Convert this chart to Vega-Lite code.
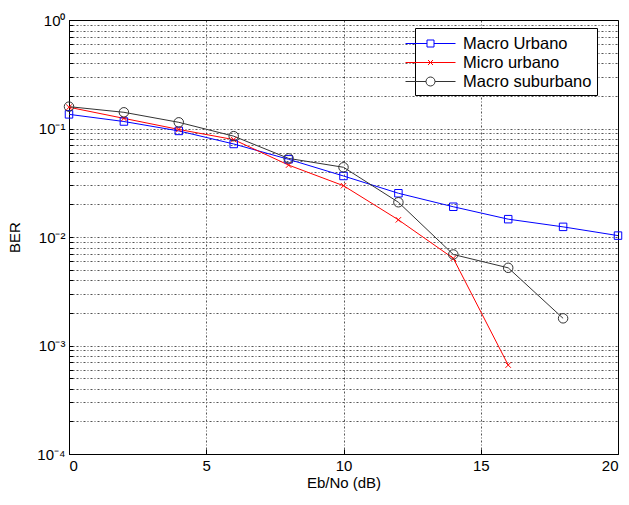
{
  "$schema": "https://vega.github.io/schema/vega-lite/v6.json",
  "autosize": "none",
  "width": 549,
  "height": 434,
  "padding": {"left": 69, "top": 20, "right": 11, "bottom": 51},
  "background": "white",
  "config": {
    "font": "Liberation Sans",
    "view": {"stroke": "#000", "strokeWidth": 1},
    "axis": {
      "domainColor": "#000",
      "tickColor": "#000",
      "labelColor": "#000",
      "titleColor": "#000",
      "labelFont": "Liberation Sans",
      "titleFont": "Liberation Sans",
      "labelFontSize": 15,
      "titleFontSize": 15,
      "titleFontWeight": "normal",
      "gridColor": "#000",
      "gridDash": [2, 2, 1, 2],
      "gridWidth": 0.8,
      "gridOpacity": 0.85
    }
  },
  "data": {
    "values": [
      {"ebno": 0, "ber": 0.135, "series": "Macro Urbano"},
      {"ebno": 2, "ber": 0.116, "series": "Macro Urbano"},
      {"ebno": 4, "ber": 0.095, "series": "Macro Urbano"},
      {"ebno": 6, "ber": 0.072, "series": "Macro Urbano"},
      {"ebno": 8, "ber": 0.052, "series": "Macro Urbano"},
      {"ebno": 10, "ber": 0.0365, "series": "Macro Urbano"},
      {"ebno": 12, "ber": 0.0253, "series": "Macro Urbano"},
      {"ebno": 14, "ber": 0.019, "series": "Macro Urbano"},
      {"ebno": 16, "ber": 0.0146, "series": "Macro Urbano"},
      {"ebno": 18, "ber": 0.0124, "series": "Macro Urbano"},
      {"ebno": 20, "ber": 0.0103, "series": "Macro Urbano"},
      {"ebno": 0, "ber": 0.157, "series": "Micro urbano"},
      {"ebno": 2, "ber": 0.124, "series": "Micro urbano"},
      {"ebno": 4, "ber": 0.098, "series": "Micro urbano"},
      {"ebno": 6, "ber": 0.079, "series": "Micro urbano"},
      {"ebno": 8, "ber": 0.046, "series": "Micro urbano"},
      {"ebno": 10, "ber": 0.0297, "series": "Micro urbano"},
      {"ebno": 12, "ber": 0.0144, "series": "Micro urbano"},
      {"ebno": 14, "ber": 0.00636, "series": "Micro urbano"},
      {"ebno": 16, "ber": 0.00066, "series": "Micro urbano"},
      {"ebno": 0, "ber": 0.159, "series": "Macro suburbano"},
      {"ebno": 2, "ber": 0.141, "series": "Macro suburbano"},
      {"ebno": 4, "ber": 0.114, "series": "Macro suburbano"},
      {"ebno": 6, "ber": 0.085, "series": "Macro suburbano"},
      {"ebno": 8, "ber": 0.053, "series": "Macro suburbano"},
      {"ebno": 10, "ber": 0.0439, "series": "Macro suburbano"},
      {"ebno": 12, "ber": 0.0209, "series": "Macro suburbano"},
      {"ebno": 14, "ber": 0.0069, "series": "Macro suburbano"},
      {"ebno": 16, "ber": 0.0052, "series": "Macro suburbano"},
      {"ebno": 18, "ber": 0.00178, "series": "Macro suburbano"}
    ]
  },
  "encoding": {
    "x": {
      "field": "ebno",
      "type": "quantitative",
      "scale": {"domain": [0, 20], "nice": false, "zero": false},
      "axis": {
        "values": [0, 5, 10, 15, 20],
        "title": "Eb/No (dB)",
        "tickSize": -5,
        "labelPadding": 9,
        "titlePadding": 2,
        "grid": true
      }
    },
    "y": {
      "field": "ber",
      "type": "quantitative",
      "scale": {"type": "log", "domain": [0.0001, 1], "nice": false},
      "axis": {
        "values": [0.0001, 0.0002, 0.0003, 0.0004, 0.0005, 0.0006, 0.0007, 0.0008, 0.0009,
                   0.001, 0.002, 0.003, 0.004, 0.005, 0.006, 0.007, 0.008, 0.009,
                   0.01, 0.02, 0.03, 0.04, 0.05, 0.06, 0.07, 0.08, 0.09,
                   0.1, 0.2, 0.3, 0.4, 0.5, 0.6, 0.7, 0.8, 0.9, 1],
        "labelExpr": "abs(log(datum.value)/LN10 - round(log(datum.value)/LN10)) < 0.000001 ? (round(log(datum.value)/LN10) == 0 ? '10⁰' : '10⁻' + ['⁰','¹','²','³','⁴'][-round(log(datum.value)/LN10)]) : ''",
        "title": "BER",
        "tickSize": -4,
        "labelPadding": 8,
        "titlePadding": 14,
        "grid": true,
        "labelOverlap": false
      }
    },
    "color": {
      "field": "series",
      "type": "nominal",
      "scale": {
        "domain": ["Macro Urbano", "Micro urbano", "Macro suburbano"],
        "range": ["#0000ff", "#ff0000", "#333333"]
      },
      "legend": {
        "title": null,
        "orient": "none",
        "legendX": 346,
        "legendY": 8,
        "padding": 5,
        "strokeColor": "#000",
        "fillColor": "#fff",
        "labelFontSize": 16.5,
        "labelFont": "Liberation Sans",
        "labelColor": "#000",
        "labelOffset": 22,
        "symbolType": "stroke",
        "symbolSize": 400,
        "symbolStrokeWidth": 1,
        "rowPadding": 0,
        "encode": {
          "symbols": {
            "update": {
              "shape": {"signal": "datum.value == 'Macro Urbano' ? 'M-2.5,0H-0.35M0.35,0H2.5M-0.35,-0.35H0.35V0.35H-0.35Z' : datum.value == 'Micro urbano' ? 'M-2.5,0H2.5M-0.25,-0.25L0.25,0.25M-0.25,0.25L0.25,-0.25' : 'M-2.5,0H-0.45M0.45,0H2.5M0.45,0A0.45,0.45 0 1,1 -0.45,0A0.45,0.45 0 1,1 0.45,0Z'"},
              "fill": {"value": "transparent"},
              "strokeWidth": {"value": 1}
            }
          }
        }
      }
    }
  },
  "layer": [
    {
      "mark": {"type": "line", "strokeWidth": 1, "clip": true}
    },
    {
      "transform": [{"filter": "datum.series == 'Macro Urbano'"}],
      "mark": {"type": "point", "filled": false, "strokeWidth": 1, "opacity": 1, "shape": "square", "size": 56}
    },
    {
      "transform": [{"filter": "datum.series == 'Micro urbano'"}],
      "mark": {"type": "point", "filled": false, "strokeWidth": 1, "opacity": 1, "shape": "M-1,-1L1,1M-1,1L1,-1", "size": 30}
    },
    {
      "transform": [{"filter": "datum.series == 'Macro suburbano'"}],
      "mark": {"type": "point", "filled": false, "strokeWidth": 1, "opacity": 1, "shape": "circle", "size": 90}
    }
  ]
}
